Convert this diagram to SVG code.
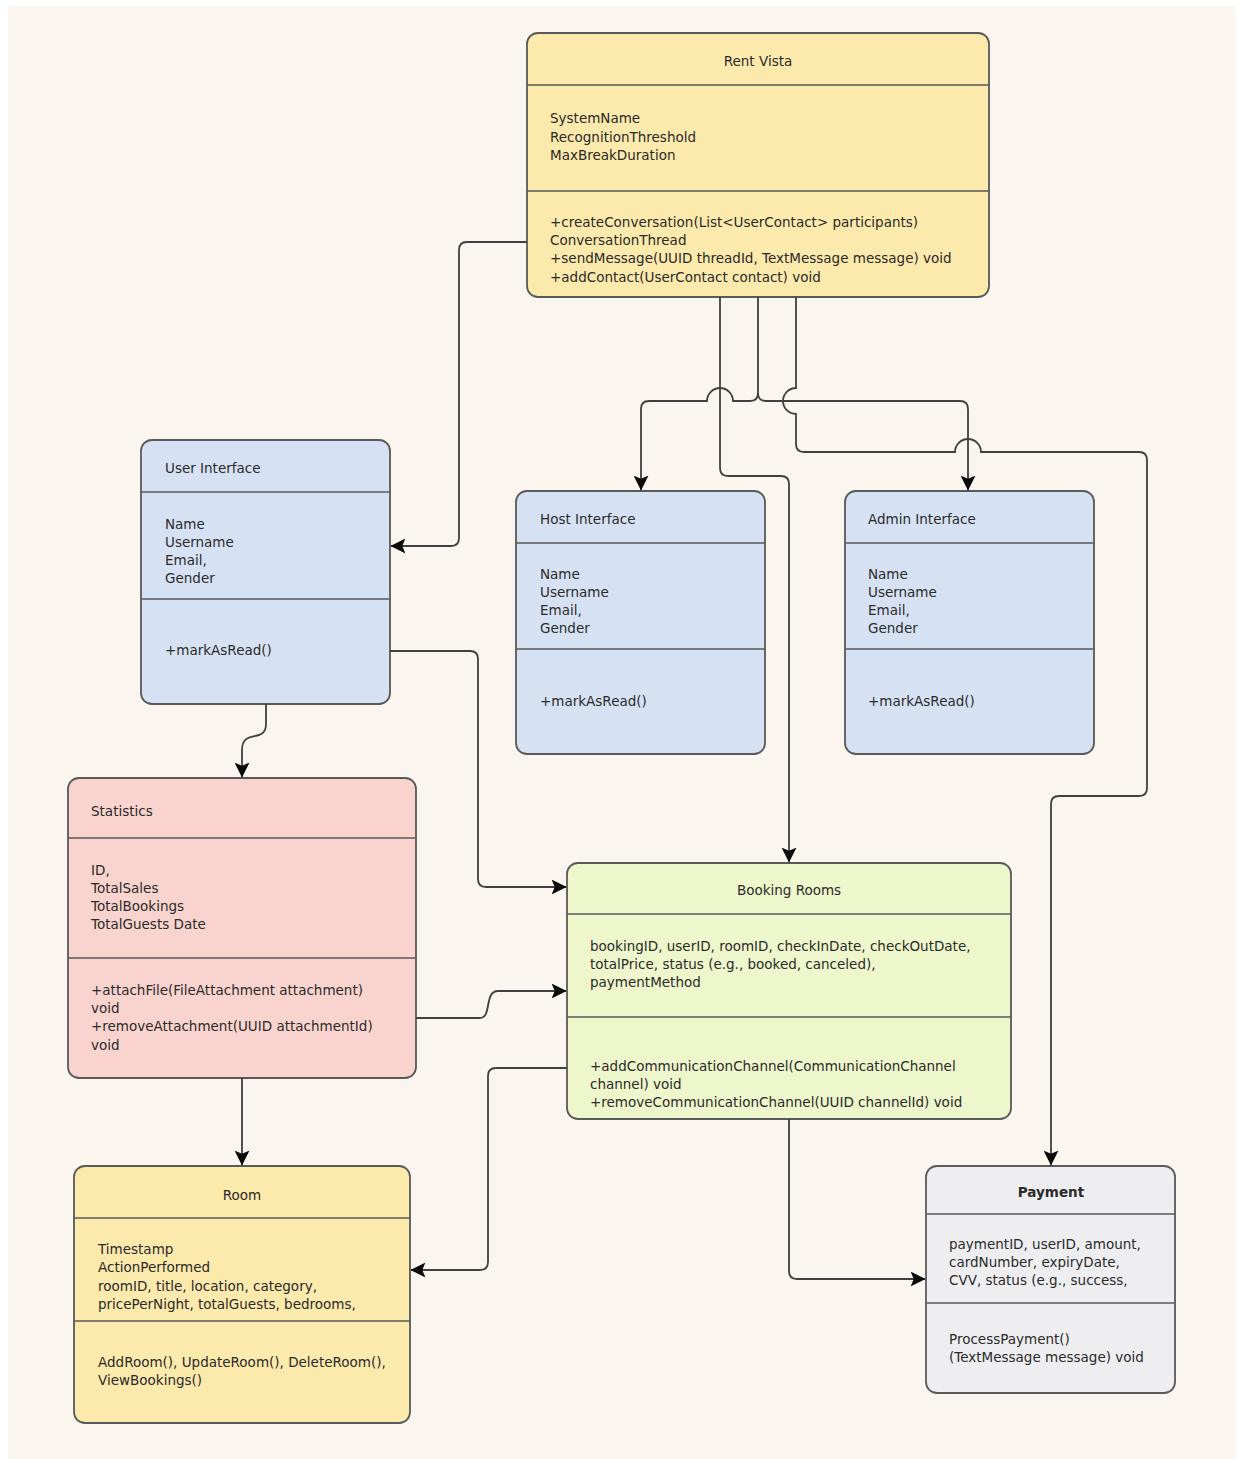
<svg xmlns="http://www.w3.org/2000/svg" width="1240" height="1459" viewBox="0 0 1240 1459">
<defs>
<style>
.box{stroke:#595959;stroke-width:1.8}
.div{stroke:#595959;stroke-width:1.6}
.yellow{fill:#FCE9AC}
.blue{fill:#D6E2F3}
.pink{fill:#F9D4CF}
.green{fill:#EEF7CC}
.gray{fill:#EEEEF1}
text{font-family:"DejaVu Sans","Liberation Sans",Arial,sans-serif;font-size:13.5px;fill:#2a2a2a}
.c{text-anchor:middle}
.b{font-weight:bold}
.conn path{fill:none;stroke:#404040;stroke-width:1.8}
</style>
<marker id="arr" viewBox="0 0 14 14" markerWidth="15" markerHeight="15" refX="13.5" refY="7" orient="auto" markerUnits="userSpaceOnUse">
<path d="M0,0 L14,7 L0,14 L3,7 z" fill="#0a0a0a"/>
</marker>
</defs>
<rect x="0" y="0" width="1240" height="1459" fill="#ffffff"/>
<rect x="8" y="6" width="1228" height="1453" fill="#FAF6EF"/>

<g id="rent-vista">
<rect class="box yellow" x="527" y="33" width="462" height="264" rx="11"/>
<line class="div" x1="527" y1="85" x2="989" y2="85"/>
<line class="div" x1="527" y1="191" x2="989" y2="191"/>
<text class="c" x="758" y="66">Rent Vista</text>
<text x="550" y="123">SystemName</text>
<text x="550" y="142">RecognitionThreshold</text>
<text x="550" y="160">MaxBreakDuration</text>
<text x="550" y="227">+createConversation(List&lt;UserContact&gt; participants)</text>
<text x="550" y="245">ConversationThread</text>
<text x="550" y="263">+sendMessage(UUID threadId, TextMessage message) void</text>
<text x="550" y="282">+addContact(UserContact contact) void</text>
</g>

<g id="user-interface">
<rect class="box blue" x="141" y="440" width="249" height="264" rx="11"/>
<line class="div" x1="141" y1="492" x2="390" y2="492"/>
<line class="div" x1="141" y1="599" x2="390" y2="599"/>
<text x="165" y="473">User Interface</text>
<text x="165" y="529">Name</text>
<text x="165" y="547">Username</text>
<text x="165" y="565">Email,</text>
<text x="165" y="583">Gender</text>
<text x="165" y="655">+markAsRead()</text>
</g>

<g id="host-interface">
<rect class="box blue" x="516" y="491" width="249" height="263" rx="11"/>
<line class="div" x1="516" y1="543" x2="765" y2="543"/>
<line class="div" x1="516" y1="649" x2="765" y2="649"/>
<text x="540" y="524">Host Interface</text>
<text x="540" y="579">Name</text>
<text x="540" y="597">Username</text>
<text x="540" y="615">Email,</text>
<text x="540" y="633">Gender</text>
<text x="540" y="706">+markAsRead()</text>
</g>

<g id="admin-interface">
<rect class="box blue" x="845" y="491" width="249" height="263" rx="11"/>
<line class="div" x1="845" y1="543" x2="1094" y2="543"/>
<line class="div" x1="845" y1="649" x2="1094" y2="649"/>
<text x="868" y="524">Admin Interface</text>
<text x="868" y="579">Name</text>
<text x="868" y="597">Username</text>
<text x="868" y="615">Email,</text>
<text x="868" y="633">Gender</text>
<text x="868" y="706">+markAsRead()</text>
</g>

<g id="statistics">
<rect class="box pink" x="68" y="778" width="348" height="300" rx="11"/>
<line class="div" x1="68" y1="838" x2="416" y2="838"/>
<line class="div" x1="68" y1="958" x2="416" y2="958"/>
<text x="91" y="816">Statistics</text>
<text x="91" y="875">ID,</text>
<text x="91" y="893">TotalSales</text>
<text x="91" y="911">TotalBookings</text>
<text x="91" y="929">TotalGuests Date</text>
<text x="91" y="995">+attachFile(FileAttachment attachment)</text>
<text x="91" y="1013">void</text>
<text x="91" y="1031">+removeAttachment(UUID attachmentId)</text>
<text x="91" y="1050">void</text>
</g>

<g id="booking-rooms">
<rect class="box green" x="567" y="863" width="444" height="256" rx="11"/>
<line class="div" x1="567" y1="914" x2="1011" y2="914"/>
<line class="div" x1="567" y1="1017" x2="1011" y2="1017"/>
<text class="c" x="789" y="895">Booking Rooms</text>
<text x="590" y="951">bookingID, userID, roomID, checkInDate, checkOutDate,</text>
<text x="590" y="969">totalPrice, status (e.g., booked, canceled),</text>
<text x="590" y="987">paymentMethod</text>
<text x="590" y="1071">+addCommunicationChannel(CommunicationChannel</text>
<text x="590" y="1089">channel) void</text>
<text x="590" y="1107">+removeCommunicationChannel(UUID channelId) void</text>
</g>

<g id="room">
<rect class="box yellow" x="74" y="1166" width="336" height="257" rx="11"/>
<line class="div" x1="74" y1="1218" x2="410" y2="1218"/>
<line class="div" x1="74" y1="1321" x2="410" y2="1321"/>
<text class="c" x="242" y="1200">Room</text>
<text x="98" y="1254">Timestamp</text>
<text x="98" y="1272">ActionPerformed</text>
<text x="98" y="1291">roomID, title, location, category,</text>
<text x="98" y="1309">pricePerNight, totalGuests, bedrooms,</text>
<text x="98" y="1367">AddRoom(), UpdateRoom(), DeleteRoom(),</text>
<text x="98" y="1385">ViewBookings()</text>
</g>

<g id="payment">
<rect class="box gray" x="926" y="1166" width="249" height="227" rx="11"/>
<line class="div" x1="926" y1="1214" x2="1175" y2="1214"/>
<line class="div" x1="926" y1="1303" x2="1175" y2="1303"/>
<text class="c b" x="1051" y="1197">Payment</text>
<text x="949" y="1249">paymentID, userID, amount,</text>
<text x="949" y="1267">cardNumber, expiryDate,</text>
<text x="949" y="1285">CVV, status (e.g., success,</text>
<text x="949" y="1344">ProcessPayment()</text>
<text x="949" y="1362">(TextMessage message) void</text>
</g>

<g id="connectors" class="conn">
<path d="M527,242 H467 Q459,242 459,250 V538 Q459,546 451,546 H391" marker-end="url(#arr)"/>
<path d="M720,297 V468 Q720,476 728,476 H781 Q789,476 789,484 V862" marker-end="url(#arr)"/>
<path d="M758,297 V393 Q758,401 750,401 H733 A13,13 0 0 0 707,401 H649 Q641,401 641,409 V490" marker-end="url(#arr)"/>
<path d="M758,393 Q758,401 766,401 H960 Q968,401 968,409 V490" marker-end="url(#arr)"/>
<path d="M796,297 V388 A13,13 0 0 0 796,414 V444 Q796,452 804,452 H955 A13,13 0 0 1 981,452 H1139 Q1147,452 1147,460 V788 Q1147,796 1139,796 H1059 Q1051,796 1051,804 V1165" marker-end="url(#arr)"/>
<path d="M390,651 H470 Q478,651 478,659 V879 Q478,887 486,887 H566" marker-end="url(#arr)"/>
<path d="M266,704 V724 C266,744 242,728 242,750 V777" marker-end="url(#arr)"/>
<path d="M416,1018 H480 C492,1018 484,991 498,991 H566" marker-end="url(#arr)"/>
<path d="M567,1068 H496 Q488,1068 488,1076 V1262 Q488,1270 480,1270 H411" marker-end="url(#arr)"/>
<path d="M242,1078 V1165" marker-end="url(#arr)"/>
<path d="M789,1119 V1271 Q789,1279 797,1279 H925" marker-end="url(#arr)"/>
</g>
</svg>
